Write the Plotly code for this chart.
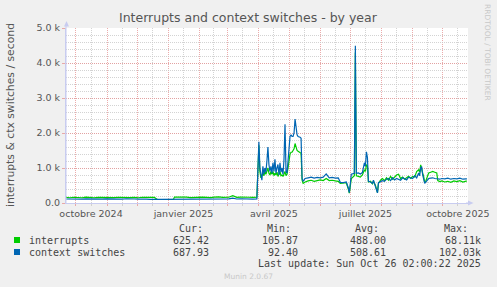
import plotly.graph_objects as go

# ---------------- data ----------------
dates = [
    "2024-09-21", "2024-09-25", "2024-09-29", "2024-10-03", "2024-10-07", "2024-10-11",
    "2024-10-15", "2024-10-19", "2024-10-23", "2024-10-27", "2024-10-31", "2024-11-04",
    "2024-11-08", "2024-11-12", "2024-11-16", "2024-11-20", "2024-11-24", "2024-11-28",
    "2024-12-02", "2024-12-06", "2024-12-10", "2024-12-14", "2024-12-18", "2024-12-21",
    "2024-12-25", "2024-12-29", "2025-01-02", "2025-01-06", "2025-01-07", "2025-01-11",
    "2025-01-15", "2025-01-19", "2025-01-23", "2025-01-27", "2025-01-31", "2025-02-04",
    "2025-02-08", "2025-02-12", "2025-02-16", "2025-02-20", "2025-02-24", "2025-03-02",
    "2025-03-06", "2025-03-10", "2025-03-14", "2025-03-18", "2025-03-22", "2025-03-26",
    "2025-03-30",
    "2025-04-01", "2025-04-02", "2025-04-03", "2025-04-04", "2025-04-05", "2025-04-06",
    "2025-04-07", "2025-04-08", "2025-04-09", "2025-04-10", "2025-04-11", "2025-04-12",
    "2025-04-13", "2025-04-14", "2025-04-15", "2025-04-16", "2025-04-17", "2025-04-18",
    "2025-04-19", "2025-04-20", "2025-04-21", "2025-04-22", "2025-04-23", "2025-04-24",
    "2025-04-25", "2025-04-26", "2025-04-27", "2025-04-28", "2025-04-29", "2025-04-30",
    "2025-05-01", "2025-05-02", "2025-05-03", "2025-05-04", "2025-05-05", "2025-05-06",
    "2025-05-07", "2025-05-08", "2025-05-09", "2025-05-10", "2025-05-11", "2025-05-12",
    "2025-05-13", "2025-05-14", "2025-05-15", "2025-05-16", "2025-05-17",
    "2025-05-20", "2025-05-23", "2025-05-26", "2025-05-29", "2025-06-01", "2025-06-04",
    "2025-06-07", "2025-06-10", "2025-06-13", "2025-06-16", "2025-06-19", "2025-06-21",
    "2025-06-24", "2025-06-27", "2025-06-29", "2025-06-30", "2025-07-02", "2025-07-04",
    "2025-07-05", "2025-07-06", "2025-07-07", "2025-07-09", "2025-07-11", "2025-07-13",
    "2025-07-14", "2025-07-15", "2025-07-16", "2025-07-17", "2025-07-18", "2025-07-19",
    "2025-07-21", "2025-07-23", "2025-07-24", "2025-07-26", "2025-07-28", "2025-07-29",
    "2025-07-31",
    "2025-08-02", "2025-08-04", "2025-08-06", "2025-08-08", "2025-08-10", "2025-08-12",
    "2025-08-14", "2025-08-16", "2025-08-18", "2025-08-20", "2025-08-22", "2025-08-24",
    "2025-08-26", "2025-08-28", "2025-08-30", "2025-09-01", "2025-09-03", "2025-09-05",
    "2025-09-07", "2025-09-08", "2025-09-09", "2025-09-10", "2025-09-11", "2025-09-12",
    "2025-09-13", "2025-09-14", "2025-09-16", "2025-09-17", "2025-09-19", "2025-09-21",
    "2025-09-23", "2025-09-25", "2025-09-26", "2025-09-28", "2025-09-30", "2025-10-03",
    "2025-10-06", "2025-10-09", "2025-10-12", "2025-10-15", "2025-10-18", "2025-10-21",
    "2025-10-24", "2025-10-25",
]

interrupts = [
    160, 150, 165, 155, 150, 170,
    158, 150, 162, 155, 168, 160,
    152, 165, 158, 170, 155, 162,
    150, 165, 158, 150, 160, 100,
    100, 100, 100, 100, 170, 175,
    160, 168, 155, 165, 158, 170,
    160, 152, 168, 175, 160, 165,
    210, 160, 170, 158, 165, 160,
    165,
    1650, 900, 720, 800, 850, 780,
    900, 820, 950, 1000, 850, 800,
    900, 820, 900, 780, 850, 800,
    880, 760, 820, 900, 780, 800,
    760, 850, 900, 780, 820, 1000,
    1300, 1400, 1450, 1450, 1500, 1550,
    1700, 1600, 1500, 1480, 1450, 1450,
    1420, 650, 560, 580, 600,
    630, 650, 620, 640, 660, 640,
    700, 640, 650, 630, 620, 560,
    560, 580, 400, 280, 700, 750,
    780, 4300, 780, 760, 740, 800,
    900, 950, 900, 1100, 1050, 600,
    620, 550, 620, 500, 300, 560,
    650,
    700, 640, 720, 650, 760, 680,
    740, 800, 820, 700, 740, 680,
    720, 760, 700, 760, 740, 900,
    950, 880, 1090, 1000, 850, 750,
    580, 620, 750, 860, 880, 900,
    880, 860, 640, 610, 630, 600,
    620, 590, 630, 610, 640, 600,
    625, 625.42,
]

ctx_switches = [
    115, 110, 120, 112, 108, 118,
    112, 105, 118, 110, 120, 115,
    108, 118, 112, 122, 110, 115,
    108, 120, 112, 106, 114, 105,
    105, 105, 105, 105, 120, 118,
    112, 120, 110, 118, 112, 120,
    115, 110, 120, 125, 112, 118,
    140, 115, 122, 112, 118, 112,
    115,
    1750, 1000, 780, 650, 1050, 820,
    1000, 880, 1200, 1600, 1100, 900,
    1050, 850, 1150, 900, 1250, 850,
    1000, 1100, 800, 1150, 880, 1000,
    820, 1250, 2250, 900, 850, 1200,
    1650, 1900, 1950, 1900, 1900, 2000,
    2400, 2100, 1950, 1900, 1900, 1880,
    1850, 700, 620, 660, 700,
    720, 740, 710, 730, 720, 740,
    830, 720, 730, 710, 720, 590,
    580, 600, 430, 300, 820, 850,
    850, 4490, 850, 860, 830, 870,
    1000, 1150, 1050, 1460, 1300, 620,
    600, 560, 650, 480, 290, 580,
    620,
    640, 620, 680, 700, 640, 720,
    660, 700, 680, 650, 720, 700,
    660, 740, 720, 700, 780, 720,
    860, 780, 1000, 1040, 800, 700,
    560, 600, 680, 700, 710, 720,
    700, 690, 700, 680, 700, 690,
    710, 680, 700, 690, 710, 680,
    688, 687.93,
]

month_starts = ["2024-10-01", "2024-11-01", "2024-12-01", "2025-01-01", "2025-02-01",
                "2025-03-01", "2025-04-01", "2025-05-01", "2025-06-01", "2025-07-01",
                "2025-08-01", "2025-09-01", "2025-10-01"]
mid_months = ["2024-10-16", "2024-11-16", "2024-12-16", "2025-01-16", "2025-02-15",
              "2025-03-16", "2025-04-16", "2025-05-16", "2025-06-16", "2025-07-16",
              "2025-08-16", "2025-09-16", "2025-10-16"]
mid_labels = ["octobre 2024", "", "", "janvier 2025", "", "", "avril 2025", "", "",
              "juillet 2025", "", "", "octobre 2025"]

y_ticks = [0, 1000, 2000, 3000, 4000, 5000]
y_labels = ["0.0", "1.0 k", "2.0 k", "3.0 k", "4.0 k", "5.0 k"]

series_names = ["interrupts", "context switches"]
series_colors = ["#00CC00", "#0066B3"]
cur_vals = ["625.42", "687.93"]
min_vals = ["105.87", "92.40"]
avg_vals = ["488.00", "508.61"]
max_vals = ["68.11k", "102.03k"]

# ---------------- layout helpers ----------------
W, H = 497, 287
L, R, T, B = 66, 468, 28, 203


def px(x):
    return (x - L) / (R - L)


def py(y):
    return (B - y) / (B - T)


fig = go.Figure()
fig.add_trace(go.Scatter(x=dates, y=interrupts, mode="lines", name=series_names[0],
                         line=dict(color=series_colors[0], width=1.2), hoverinfo="skip"))
fig.add_trace(go.Scatter(x=dates, y=ctx_switches, mode="lines", name=series_names[1],
                         line=dict(color=series_colors[1], width=1.2), hoverinfo="skip"))

tick_font = dict(family="DejaVu Sans", size=9.5, color="#555555")
major_grid = "rgba(230,150,150,0.8)"
minor_grid = "rgba(200,200,200,0.8)"
dots = "1px,1px"
axis_col = "#C8CCF0"

fig.update_layout(
    width=W, height=H,
    margin=dict(l=L, r=W - R, t=T, b=H - B, pad=0),
    paper_bgcolor="#F0F0F0",
    plot_bgcolor="#FFFFFF",
    showlegend=False,
    xaxis=dict(
        type="date",
        range=["2024-09-21 02:00", "2025-10-26 02:00"],
        tickmode="array", tickvals=mid_months, ticktext=mid_labels,
        showgrid=True, gridcolor=minor_grid, griddash=dots, gridwidth=1,
        ticks="outside", ticklen=2, tickcolor=minor_grid,
        tickfont=tick_font,
        minor=dict(tickmode="array", tickvals=month_starts, showgrid=True,
                   gridcolor=major_grid, griddash=dots, gridwidth=1,
                   ticks="outside", ticklen=2, tickcolor=major_grid),
        showline=True, linecolor=axis_col, linewidth=1,
        zeroline=False, automargin=False,
    ),
    yaxis=dict(
        range=[0, 5000],
        tickmode="array", tickvals=y_ticks, ticktext=y_labels,
        showgrid=True, gridcolor=major_grid, griddash=dots, gridwidth=1,
        ticks="outside", ticklen=3, tickcolor=major_grid,
        tickfont=tick_font,
        minor=dict(dtick=200, showgrid=True, gridcolor=minor_grid,
                   griddash=dots, gridwidth=1),
        showline=True, linecolor=axis_col, linewidth=1,
        zeroline=False, automargin=False,
    ),
)

# axis arrows
fig.add_shape(type="path", xref="paper", yref="paper", line=dict(width=0),
              fillcolor=axis_col,
              path=f"M {px(64.0)} {py(26.5)} L {px(66.5)} {py(21)} L {px(69.0)} {py(26.5)} Z")
fig.add_shape(type="line", xref="paper", yref="paper", x0=px(66), x1=px(66), y0=py(203), y1=py(24),
              line=dict(color=axis_col, width=1))
fig.add_shape(type="path", xref="paper", yref="paper", line=dict(width=0),
              fillcolor=axis_col,
              path=f"M {px(468)} {py(200.5)} L {px(473.5)} {py(203)} L {px(468)} {py(205.5)} Z")
fig.add_shape(type="line", xref="paper", yref="paper", x0=px(466), x1=px(469), y0=py(203), y1=py(203),
              line=dict(color=axis_col, width=1))

ann = []
# title
ann.append(dict(text="Interrupts and context switches - by year", x=px(248), y=py(18),
                xanchor="center", yanchor="middle",
                font=dict(family="DejaVu Sans", size=12.5, color="#555555")))
# y axis title
ann.append(dict(text="interrupts & ctx switches / second", x=px(10), y=py(115),
                xanchor="center", yanchor="middle", textangle=-90,
                font=dict(family="DejaVu Sans", size=10.8, color="#555555")))
# side watermark
ann.append(dict(text="RRDTOOL / TOBI OETIKER", x=px(488), y=py(52),
                xanchor="center", yanchor="middle", textangle=90,
                font=dict(family="DejaVu Sans", size=7.5, color="#C8C8C8")))

mono = dict(family="DejaVu Sans Mono", size=10, color="#444444")
# headers
for txt, xr in [("Cur:", 204.5), ("Min:", 293), ("Avg:", 380.5), ("Max:", 470)]:
    ann.append(dict(text=txt, x=px(xr), y=py(228), xanchor="right", yanchor="middle", font=mono))

row_y = [240, 252]
for i in range(2):
    ann.append(dict(text=series_names[i], x=px(26.5), y=py(row_y[i]), xanchor="left",
                    yanchor="middle", font=mono))
    for vals, xr in [(cur_vals, 211), (min_vals, 300), (avg_vals, 387.5), (max_vals, 483)]:
        ann.append(dict(text=vals[i], x=px(xr), y=py(row_y[i]), xanchor="right",
                        yanchor="middle", font=mono))
    fig.add_shape(type="rect", xref="paper", yref="paper",
                  x0=px(14), x1=px(20), y0=py(row_y[i] - 3), y1=py(row_y[i] + 3),
                  fillcolor=series_colors[i], line=dict(width=0))

ann.append(dict(text="Last update: Sun Oct 26 02:00:22 2025", x=px(482.5), y=py(263.5),
                xanchor="right", yanchor="middle", font=mono))
ann.append(dict(text="Munin 2.0.67", x=px(248), y=py(276), xanchor="center", yanchor="middle",
                font=dict(family="DejaVu Sans", size=7.5, color="#C8C8C8")))

for a in ann:
    a.update(xref="paper", yref="paper", showarrow=False)
fig.update_layout(annotations=ann)

fig.write_html("out.html")
